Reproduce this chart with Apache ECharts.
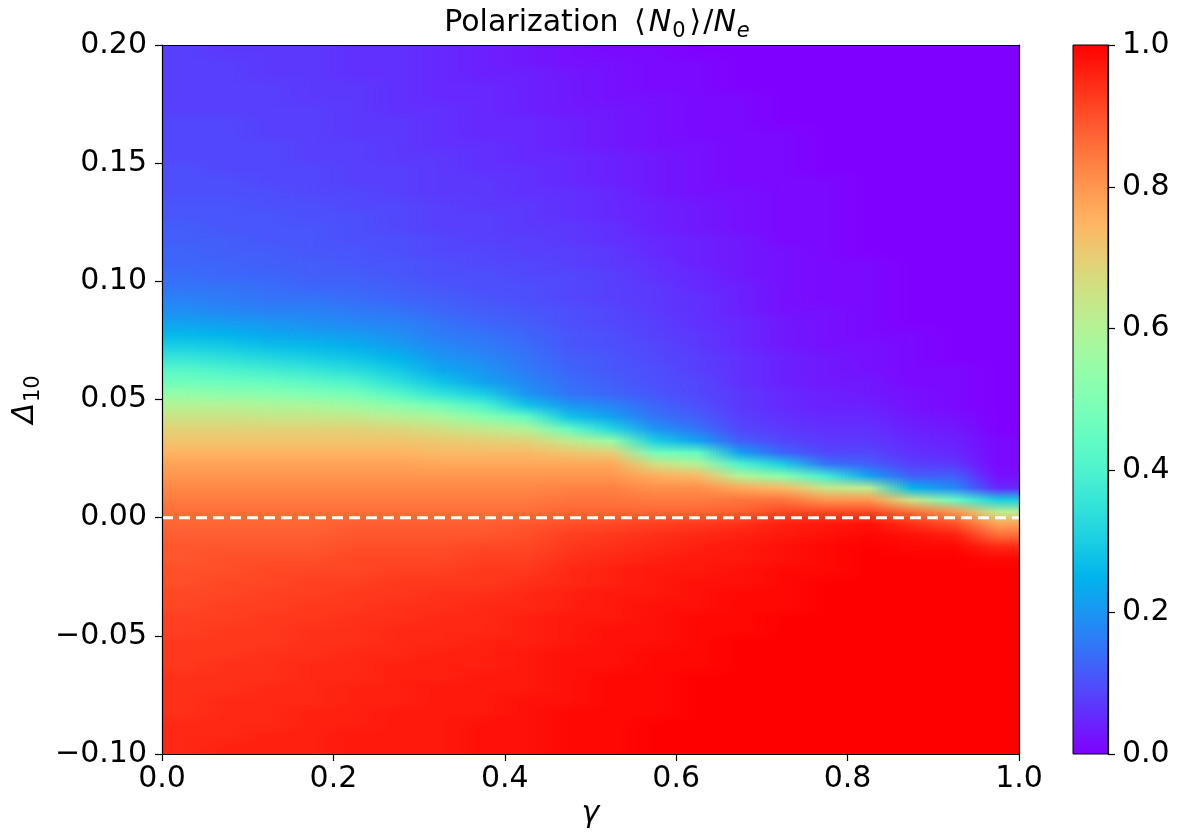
<!DOCTYPE html>
<html>
<head>
<meta charset="utf-8">
<script src="https://cdn.jsdelivr.net/npm/echarts@6/dist/echarts.min.js"></script>
<style>
html,body{margin:0;padding:0;background:#fff;}
#chart{width:1185px;height:836px;}
</style>
</head>
<body>
<div id="chart"></div>
<script>
// ---- data ----
// cell centres along gamma (x) and Delta_10 (y, top to bottom)
const gammaCenters = [0.025, 0.075, 0.125, 0.175, 0.225, 0.275, 0.325, 0.375, 0.425, 0.475,
                      0.525, 0.575, 0.625, 0.675, 0.725, 0.775, 0.825, 0.875, 0.925, 0.975];
const deltaCenters = [0.1975, 0.1925, 0.1875, 0.1825, 0.1775, 0.1725, 0.1675, 0.1625, 0.1575, 0.1525,
                      0.1475, 0.1425, 0.1375, 0.1325, 0.1275, 0.1225, 0.1175, 0.1125, 0.1075, 0.1025,
                      0.0975, 0.0925, 0.0875, 0.0825, 0.0775, 0.0725, 0.0675, 0.0625, 0.0575, 0.0525,
                      0.0475, 0.0425, 0.0375, 0.0325, 0.0275, 0.0225, 0.0175, 0.0125, 0.0075, 0.0025,
                      -0.0025, -0.0075, -0.0125, -0.0175, -0.0225, -0.0275, -0.0325, -0.0375, -0.0425, -0.0475,
                      -0.0525, -0.0575, -0.0625, -0.0675, -0.0725, -0.0775, -0.0825, -0.0875, -0.0925, -0.0975];

// polarization <N0>/Ne : one array per gamma column, values from top (Delta=0.2) to bottom (Delta=-0.1)
const polarization = [
  [.08,.08,.08,.08,.08,.08,.09,.09,.09,.09, .10,.10,.10,.11,.11,.12,.12,.13,.13,.14, .15,.17,.19,.22,.26,.30,.36,.42,.47,.54, .60,.65,.69,.72,.75,.78,.80,.82,.84,.86, .87,.88,.89,.89,.90,.90,.91,.91,.92,.92, .93,.93,.93,.94,.94,.94,.94,.95,.95,.95],
  [.07,.08,.08,.08,.08,.08,.09,.09,.09,.09, .09,.10,.10,.11,.11,.11,.12,.12,.13,.13, .15,.16,.18,.21,.25,.29,.34,.40,.46,.53, .60,.65,.69,.72,.75,.78,.80,.82,.84,.86, .87,.88,.89,.90,.90,.91,.91,.92,.92,.93, .93,.93,.94,.94,.94,.95,.95,.95,.95,.96],
  [.07,.07,.07,.08,.08,.08,.08,.08,.09,.09, .09,.09,.10,.10,.11,.11,.11,.12,.12,.13, .14,.15,.17,.20,.23,.27,.32,.38,.45,.52, .59,.64,.69,.72,.75,.78,.80,.82,.84,.86, .87,.88,.89,.90,.91,.91,.92,.92,.93,.93, .93,.94,.94,.94,.95,.95,.95,.95,.96,.96],
  [.07,.07,.07,.07,.07,.08,.08,.08,.08,.08, .09,.09,.09,.10,.10,.11,.11,.11,.12,.12, .13,.15,.17,.19,.22,.26,.30,.36,.43,.50, .58,.64,.69,.72,.75,.78,.80,.82,.84,.86, .87,.88,.89,.90,.91,.92,.92,.93,.93,.94, .94,.94,.95,.95,.95,.95,.96,.96,.96,.96],
  [.06,.06,.06,.07,.07,.07,.07,.07,.08,.08, .08,.08,.09,.09,.10,.10,.10,.11,.11,.12, .13,.14,.16,.18,.21,.24,.28,.33,.40,.48, .56,.63,.69,.72,.75,.78,.80,.82,.84,.86, .88,.89,.90,.91,.91,.92,.93,.93,.94,.94, .94,.95,.95,.95,.96,.96,.96,.96,.97,.97],
  [.06,.06,.06,.06,.06,.06,.07,.07,.07,.07, .08,.08,.08,.09,.09,.09,.10,.10,.11,.11, .12,.13,.15,.17,.19,.21,.25,.29,.34,.42, .52,.61,.68,.72,.75,.78,.80,.82,.84,.86, .88,.89,.90,.91,.92,.93,.93,.94,.94,.95, .95,.95,.96,.96,.96,.96,.97,.97,.97,.97],
  [.05,.05,.05,.05,.05,.06,.06,.06,.06,.07, .07,.07,.07,.08,.08,.08,.09,.09,.10,.10, .11,.12,.13,.15,.16,.18,.20,.23,.28,.35, .47,.58,.66,.71,.74,.77,.80,.82,.84,.86, .88,.89,.90,.91,.92,.93,.94,.94,.95,.95, .95,.96,.96,.96,.97,.97,.97,.97,.97,.97],
  [.04,.04,.04,.05,.05,.05,.05,.05,.06,.06, .06,.07,.07,.07,.08,.08,.08,.09,.09,.10, .10,.11,.12,.13,.15,.16,.18,.20,.22,.30, .40,.52,.63,.70,.74,.77,.80,.82,.84,.86, .88,.89,.91,.92,.93,.93,.94,.95,.95,.95, .96,.96,.96,.97,.97,.97,.97,.98,.98,.98],
  [.03,.03,.04,.04,.04,.04,.05,.05,.05,.05, .06,.06,.06,.07,.07,.07,.08,.08,.09,.09, .10,.10,.11,.12,.13,.14,.15,.16,.18,.20, .28,.45,.60,.69,.74,.77,.80,.82,.84,.86, .89,.90,.91,.92,.93,.94,.95,.95,.96,.96, .96,.97,.97,.97,.97,.98,.98,.98,.98,.98],
  [.02,.02,.03,.03,.03,.03,.04,.04,.04,.05, .05,.05,.06,.06,.06,.07,.07,.08,.08,.09, .09,.09,.10,.10,.11,.11,.12,.13,.14,.15, .20,.28,.45,.63,.72,.77,.80,.83,.85,.87, .90,.92,.93,.94,.95,.95,.96,.96,.97,.97, .97,.98,.98,.98,.98,.98,.99,.99,.99,.99],
  [.01,.02,.02,.02,.02,.03,.03,.03,.03,.04, .04,.04,.05,.05,.05,.06,.06,.07,.07,.08, .08,.08,.09,.09,.10,.10,.11,.11,.12,.13, .17,.22,.32,.55,.70,.77,.80,.83,.85,.87, .91,.93,.94,.95,.96,.96,.97,.97,.97,.98, .98,.98,.98,.99,.99,.99,.99,.99,.99,.99],
  [.01,.01,.01,.01,.02,.02,.02,.02,.02,.03, .03,.03,.03,.04,.04,.04,.05,.05,.06,.06, .07,.07,.07,.08,.08,.09,.09,.10,.10,.11, .13,.15,.20,.30,.48,.66,.76,.81,.84,.87, .92,.94,.95,.96,.97,.97,.97,.98,.98,.98, .98,.99,.99,.99,.99,.99,.99,1,1,1],
  [0,.01,.01,.01,.01,.01,.01,.01,.02,.02, .02,.02,.02,.03,.03,.03,.04,.04,.04,.05, .05,.06,.06,.06,.07,.07,.08,.08,.09,.09, .10,.12,.15,.22,.45,.60,.74,.81,.84,.87, .93,.95,.96,.97,.97,.98,.98,.98,.99,.99, .99,.99,.99,1,1,1,1,1,1,1],
  [0,0,0,0,.01,.01,.01,.01,.01,.01, .01,.01,.02,.02,.02,.02,.03,.03,.03,.03, .04,.04,.04,.05,.05,.05,.06,.06,.06,.07, .07,.08,.09,.12,.22,.40,.60,.77,.85,.88, .94,.96,.97,.97,.98,.98,.99,.99,.99,.99, 1,1,1,1,1,1,1,1,1,1],
  [0,0,0,0,0,0,0,.01,.01,.01, .01,.01,.01,.01,.01,.01,.01,.02,.02,.02, .02,.02,.02,.03,.03,.03,.04,.04,.04,.05, .05,.06,.07,.09,.13,.30,.52,.74,.85,.91, .96,.97,.98,.98,.99,.99,.99,.99,1,1, 1,1,1,1,1,1,1,1,1,1],
  [0,0,0,0,0,0,0,0,0,0, 0,.01,.01,.01,.01,.01,.01,.01,.01,.01, .01,.01,.02,.02,.02,.02,.03,.03,.03,.04, .04,.05,.06,.07,.09,.15,.38,.64,.80,.91, .97,.98,.99,.99,.99,1,1,1,1,1, 1,1,1,1,1,1,1,1,1,1],
  [0,0,0,0,0,0,0,0,0,0, 0,0,0,0,0,0,0,0,.01,.01, .01,.01,.01,.01,.01,.02,.02,.02,.03,.03, .04,.05,.06,.07,.09,.12,.22,.62,.80,.91, .98,.99,1,1,1,1,1,1,1,1, 1,1,1,1,1,1,1,1,1,1],
  [0,0,0,0,0,0,0,0,0,0, 0,0,0,0,0,0,0,0,0,0, 0,0,0,0,.01,.01,.01,.01,.01,.02, .02,.03,.04,.05,.06,.08,.12,.25,.65,.86, .94,.98,.99,1,1,1,1,1,1,1, 1,1,1,1,1,1,1,1,1,1],
  [0,0,0,0,0,0,0,0,0,0, 0,0,0,0,0,0,0,0,0,0, 0,0,0,0,0,0,0,.01,.01,.01, .01,.02,.03,.04,.05,.07,.12,.18,.45,.80, .90,.96,.99,1,1,1,1,1,1,1, 1,1,1,1,1,1,1,1,1,1],
  [0,0,0,0,0,0,0,0,0,0, 0,0,0,0,0,0,0,0,0,0, 0,0,0,0,0,0,0,0,0,0, 0,0,0,.01,.01,.01,.02,.05,.30,.62, .78,.86,.95,.99,1,1,1,1,1,1, 1,1,1,1,1,1,1,1,1,1]
];

const gammaTicks = [0, 0.2, 0.4, 0.6, 0.8, 1.0];
const deltaRange = [-0.1, 0.2];
const colorbarRange = [0, 1];
const zeroLine = [[0, 0], [1, 0]];

// matplotlib "rainbow" colormap samples (0, 0.05, ..., 1)
const rainbowStops = ['#8000ff','#6628fe','#4d4ffc','#3374f8','#1a96f3','#00b4ec','#1acee3','#33e3d9',
                      '#4df3ce','#66fcc2','#80ffb4','#99fca6','#b3f396','#cce385','#e6ce74','#ffb462',
                      '#ff964f','#ff743c','#ff4f28','#ff2814','#ff0000'];

// ---- build ----
const nG = gammaCenters.length, nD = deltaCenters.length;
const cells = [];
gammaCenters.forEach(function (g, i) {
  deltaCenters.forEach(function (d, j) {
    cells.push([g, d, polarization[i][j]]);
  });
});
const halfW = (gammaCenters[1] - gammaCenters[0]) / 2;
const halfH = (deltaCenters[0] - deltaCenters[1]) / 2;

function cmap(v) {
  return echarts.color.lerp(Math.max(0, Math.min(1, v)), rainbowStops);
}
const nodeColor = polarization.map(function (col) { return col.map(cmap); });

const FONT = 'DejaVu Sans';
const black = {color: '#000', width: 1.2};

// each value is shown at its cell centre; colours are shaded (RGB, bilinear) between neighbouring centres,
// like an image drawn with interpolation
function renderCell(params, api) {
  const idx = params.dataIndex;
  const i = Math.floor(idx / nD), j = idx % nD;
  const hs = [], vs = [];
  if (i === 0) hs.push([gammaCenters[0] - halfW, gammaCenters[0], 0, 0]);
  if (i < nG - 1) hs.push([gammaCenters[i], gammaCenters[i + 1], i, i + 1]);
  else hs.push([gammaCenters[i], gammaCenters[i] + halfW, i, i]);
  if (j === 0) vs.push([deltaCenters[0] + halfH, deltaCenters[0], 0, 0]);
  if (j < nD - 1) vs.push([deltaCenters[j], deltaCenters[j + 1], j, j + 1]);
  else vs.push([deltaCenters[j], deltaCenters[j] - halfH, j, j]);
  const children = [];
  hs.forEach(function (h) {
    vs.forEach(function (v) {
      const pA = api.coord([h[0], v[0]]);
      const pB = api.coord([h[1], v[1]]);
      const xa = pA[0], xb = pB[0];
      const ya = Math.round(pA[1]), yb = Math.round(pB[1]);
      const n = Math.max(1, Math.round((xb - xa) / 3));
      const cTL = nodeColor[h[2]][v[2]], cTR = nodeColor[h[3]][v[2]];
      const cBL = nodeColor[h[2]][v[3]], cBR = nodeColor[h[3]][v[3]];
      for (let k = 0; k < n; k++) {
        const x0 = Math.round(xa + (xb - xa) * k / n);
        const x1 = Math.round(xa + (xb - xa) * (k + 1) / n);
        const t = (k + 0.5) / n;
        const top = echarts.color.lerp(t, [cTL, cTR]);
        const bot = echarts.color.lerp(t, [cBL, cBR]);
        children.push({
          type: 'rect',
          shape: {x: x0, y: ya, width: x1 - x0, height: yb - ya},
          style: {fill: {type: 'linear', x: 0, y: 0, x2: 0, y2: 1, global: false,
                         colorStops: [{offset: 0, color: top}, {offset: 1, color: bot}]}}
        });
      }
    });
  });
  return {type: 'group', children: children};
}

function renderColorbar(params, api) {
  const p0 = api.coord([0, api.value(1)]);
  const p1 = api.coord([1, api.value(0)]);
  const stops = rainbowStops.map(function (c, k) {
    return {offset: k / (rainbowStops.length - 1), color: c};
  });
  return {
    type: 'rect',
    shape: {x: p0[0], y: p0[1], width: p1[0] - p0[0], height: p1[1] - p0[1]},
    style: {
      fill: {type: 'linear', x: 0, y: 1, x2: 0, y2: 0, colorStops: stops, global: false},
      stroke: '#000', lineWidth: 1
    }
  };
}

const chart = echarts.init(document.getElementById('chart'));
chart.setOption({
  animation: false,
  backgroundColor: '#fff',
  textStyle: {fontFamily: FONT},
  title: {
    text: '{r|Polarization }{b|⟨}{i|N}{s|0}{c|⟩}{r|/}{i|N}{si|e}',
    left: 592, top: 0, textAlign: 'center',
    textStyle: {
      fontFamily: FONT, fontSize: 30, fontWeight: 'normal', color: '#000',
      rich: {
        r: {fontFamily: FONT, fontSize: 30, color: '#000'},
        b: {fontFamily: FONT, fontSize: 30, color: '#000', padding: [0, 3, 0, 6]},
        c: {fontFamily: FONT, fontSize: 30, color: '#000', padding: [0, 2, 0, 2]},
        i: {fontFamily: FONT, fontSize: 30, fontStyle: 'italic', color: '#000'},
        s: {fontFamily: FONT, fontSize: 21, color: '#000', padding: [16, 2, 0, 1]},
        si: {fontFamily: FONT, fontSize: 21, fontStyle: 'italic', color: '#000', padding: [16, 0, 0, 1]}
      }
    }
  },
  grid: [
    {left: 162, top: 45, width: 857, height: 709},
    {left: 1073, top: 45, width: 35, height: 709}
  ],
  xAxis: [
    {
      gridIndex: 0, type: 'value', min: gammaTicks[0], max: gammaTicks[gammaTicks.length - 1],
      interval: gammaTicks[1] - gammaTicks[0], position: 'bottom', z: 10,
      axisLine: {show: true, onZero: false, lineStyle: black},
      axisTick: {show: true, length: 7, lineStyle: black},
      axisLabel: {fontSize: 30, color: '#000', fontFamily: FONT, margin: 10,
                  formatter: function (v) { return v.toFixed(1); }},
      splitLine: {show: false},
      name: 'γ', nameLocation: 'middle', nameGap: 40,
      nameTextStyle: {fontSize: 30, fontStyle: 'italic', color: '#000', fontFamily: FONT}
    },
    {
      gridIndex: 0, type: 'value', min: 0, max: 1, position: 'top', z: 10,
      axisLine: {show: true, onZero: false, lineStyle: black},
      axisTick: {show: false}, axisLabel: {show: false}, splitLine: {show: false}
    },
    {gridIndex: 1, type: 'value', min: 0, max: 1, show: false}
  ],
  yAxis: [
    {
      gridIndex: 0, type: 'value', min: deltaRange[0], max: deltaRange[1], interval: 0.05,
      position: 'left', z: 10,
      axisLine: {show: true, onZero: false, lineStyle: black},
      axisTick: {show: true, length: 7, lineStyle: black},
      axisLabel: {fontSize: 30, color: '#000', fontFamily: FONT, margin: 15,
                  formatter: function (v) { return (v < -1e-9 ? '\u2212' : '') + Math.abs(v).toFixed(2); }},
      splitLine: {show: false},
      name: '{d|Δ}{s|10}', nameLocation: 'middle', nameGap: 115, nameRotate: 90,
      nameTextStyle: {
        color: '#000', fontFamily: FONT, fontSize: 30,
        rich: {
          d: {fontFamily: FONT, fontSize: 30, fontStyle: 'italic', color: '#000'},
          s: {fontFamily: FONT, fontSize: 21, color: '#000', padding: [16, 0, 0, 1]}
        }
      }
    },
    {
      gridIndex: 0, type: 'value', min: deltaRange[0], max: deltaRange[1], position: 'right', z: 10,
      axisLine: {show: true, onZero: false, lineStyle: black},
      axisTick: {show: false}, axisLabel: {show: false}, splitLine: {show: false}
    },
    {
      gridIndex: 1, type: 'value', min: colorbarRange[0], max: colorbarRange[1], interval: 0.2,
      position: 'right', z: 10,
      axisLine: {show: true, onZero: false, lineStyle: black},
      axisTick: {show: true, length: 7, lineStyle: black},
      axisLabel: {fontSize: 30, color: '#000', fontFamily: FONT, margin: 14,
                  formatter: function (v) { return v.toFixed(1); }},
      splitLine: {show: false}
    }
  ],
  series: [
    {
      type: 'custom', name: 'polarization', xAxisIndex: 0, yAxisIndex: 0,
      dimensions: ['gamma', 'delta', 'pol'],
      encode: {x: 0, y: 1},
      data: cells, renderItem: renderCell, silent: true, z: 1
    },
    {
      type: 'line', xAxisIndex: 0, yAxisIndex: 0, data: zeroLine, symbol: 'none', silent: true, z: 5,
      lineStyle: {color: '#ffffff', width: 3, type: [11, 6]}
    },
    {
      type: 'custom', name: 'colorbar', xAxisIndex: 2, yAxisIndex: 2,
      data: [colorbarRange], encode: {x: -1, y: [0, 1]},
      renderItem: renderColorbar, silent: true, z: 1
    }
  ]
});
</script>
</body>
</html>
